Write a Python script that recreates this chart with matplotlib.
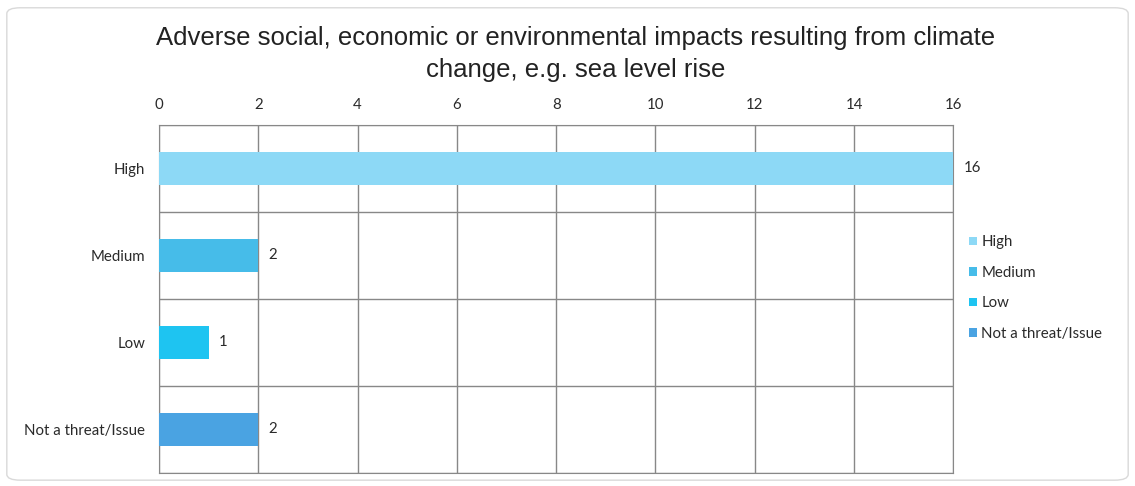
import matplotlib.pyplot as plt
from matplotlib.patches import FancyBboxPatch, Patch

# data
categories = ['High', 'Medium', 'Low', 'Not a threat/Issue']
counts = [16, 2, 1, 2]
colors = ['#8dd9f6', '#46bce9', '#1ec4f1', '#4aa3e2']
x_ticks = [0, 2, 4, 6, 8, 10, 12, 14, 16]

label_font = 'Lato'
fs = 10.8

fig = plt.figure(figsize=(11.35, 4.86), dpi=100)

# rounded chart border
border = FancyBboxPatch((0.006, 0.012), 0.988, 0.972, boxstyle='round,pad=0,rounding_size=0.012',
                        transform=fig.transFigure, facecolor='none', edgecolor='#d9d9d9', lw=1, zorder=-5)
fig.patches.append(border)

ax = fig.add_axes([0.140, 0.027, 0.700, 0.716])
ax.set_facecolor('none')

pos = list(range(len(categories)))
bars = ax.barh(pos, counts, height=0.38, color=colors, zorder=3)

ax.set_xlim(0, 16)
ax.set_ylim(len(categories) - 0.5, -0.5)
ax.set_xticks(x_ticks)
ax.xaxis.tick_top()
ax.set_yticks(pos)
ax.set_yticklabels(categories)
ax.set_yticks([p + 0.5 for p in range(-1, len(categories))], minor=True)
ax.tick_params(axis='both', which='both', length=0, labelsize=fs, colors='#2a2a2a')
ax.tick_params(axis='x', pad=9)
ax.tick_params(axis='y', pad=10)
for lab in ax.get_xticklabels() + ax.get_yticklabels():
    lab.set_fontfamily(label_font)

ax.grid(axis='x', which='major', color='#888888', lw=1, zorder=1)
ax.grid(axis='y', which='minor', color='#888888', lw=1, zorder=1)
for s in ax.spines.values():
    s.set_color('#888888')

for b, v in zip(bars, counts):
    ax.text(v + 0.2, b.get_y() + b.get_height() / 2, str(v), va='center', ha='left',
            fontsize=fs, color='#2a2a2a', fontfamily=label_font)

fig.text(0.507, 0.889, 'Adverse social, economic or environmental impacts resulting from climate\nchange, e.g. sea level rise',
         ha='center', va='center', fontsize=18.5, fontfamily='Liberation Sans', color='#222222', linespacing=1.4)

handles = [Patch(facecolor=c, edgecolor='none') for c in colors]
leg = fig.legend(handles, categories, loc='center left', bbox_to_anchor=(0.842, 0.407), frameon=False,
                 handlelength=0.5, handleheight=0.5, handletextpad=0.3, labelspacing=1.1,
                 prop={'family': label_font, 'size': fs})
for t in leg.get_texts():
    t.set_color('#2a2a2a')

fig.savefig('out.png', dpi=100)
